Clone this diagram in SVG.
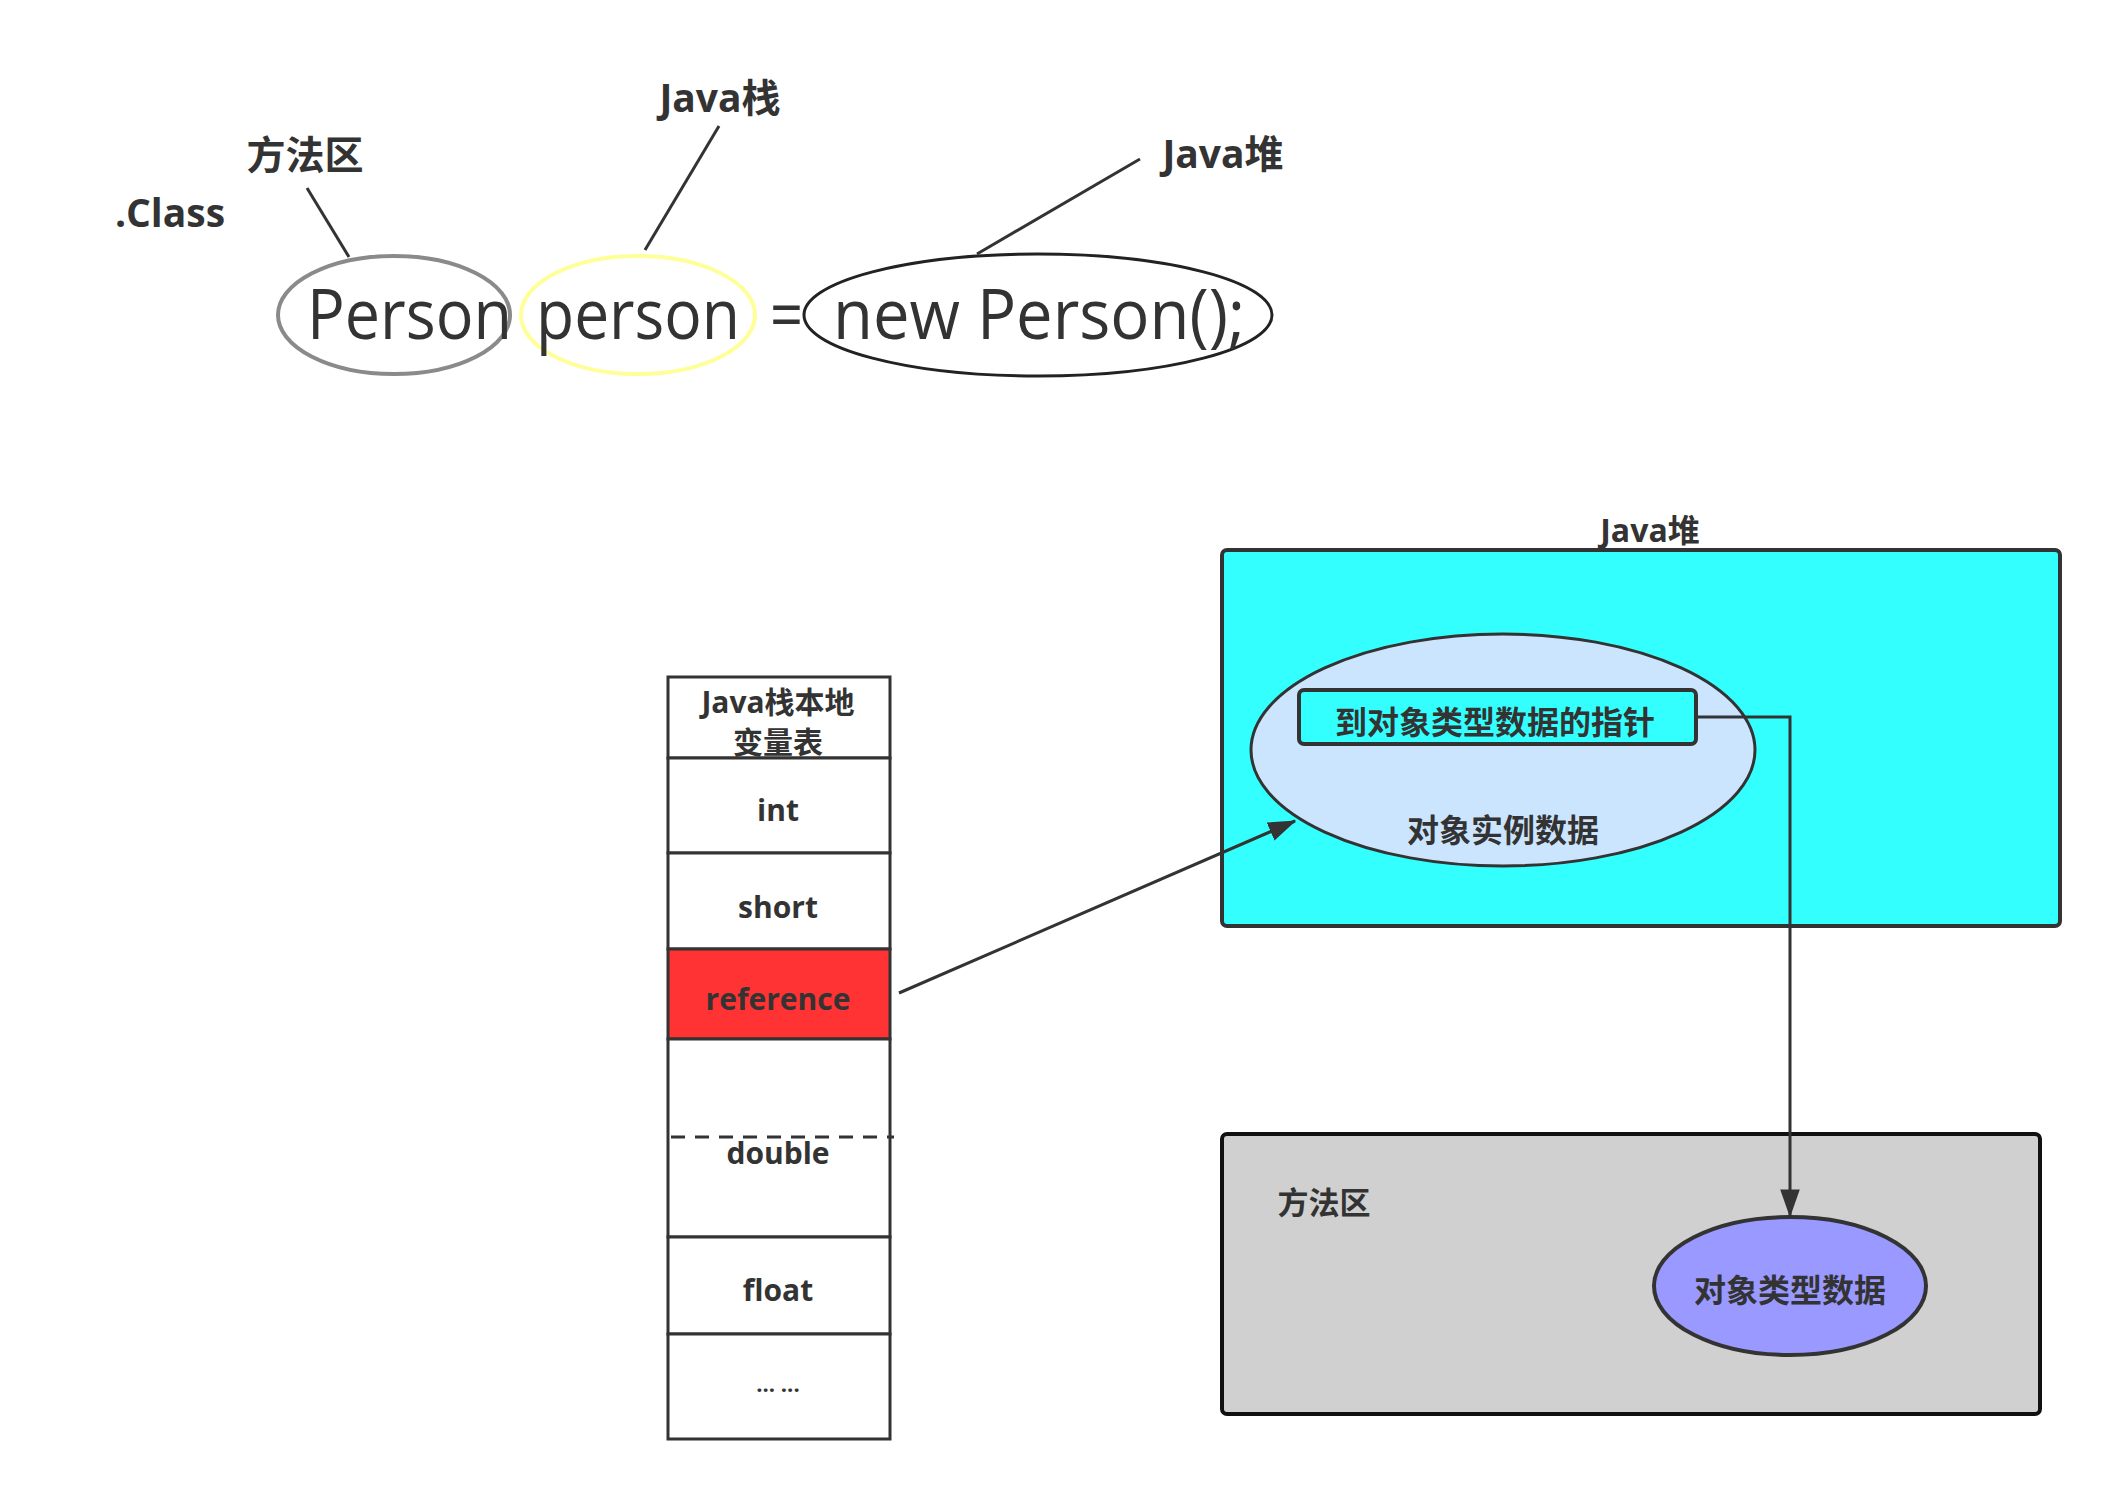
<svg xmlns="http://www.w3.org/2000/svg" width="2110" height="1490" viewBox="0 0 2110 1490">
<style>
.lbl{font-family:"Open Sans","Noto Sans CJK SC",sans-serif;font-weight:bold;fill:#333;text-anchor:middle;dominant-baseline:central}
.big{font-family:"Open Sans","Noto Sans CJK SC",sans-serif;font-size:70px;fill:#333}
.ln{stroke:#333;stroke-width:3;fill:none}
.cell{fill:#fff;stroke:#333;stroke-width:3}
</style>
<defs>
<marker id="ah2" viewBox="0 0 20 20" refX="19" refY="10" markerWidth="28" markerHeight="28" markerUnits="userSpaceOnUse" orient="auto">
<path d="M0,3 L20,10 L0,17 z" fill="#333"/>
</marker>
</defs>

<g id="code">
<ellipse cx="394" cy="315" rx="116" ry="59" fill="none" stroke="#8a8a8a" stroke-width="4"/>
<ellipse cx="638" cy="315" rx="117" ry="59" fill="none" stroke="#ffff99" stroke-width="4"/>
<ellipse cx="1038" cy="315" rx="234" ry="61" fill="none" stroke="#222" stroke-width="3"/>
<text class="big" x="307" y="339" textLength="205" lengthAdjust="spacingAndGlyphs">Person</text>
<text class="big" x="536" y="339" textLength="204" lengthAdjust="spacingAndGlyphs">person</text>
<text class="big" x="770" y="339" textLength="33" lengthAdjust="spacingAndGlyphs">=</text>
<text class="big" x="833" y="339" textLength="412" lengthAdjust="spacingAndGlyphs">new Person();</text>
</g>

<g id="labels-top">
<text class="lbl" x="720" y="96" font-size="39">Java栈</text>
<text class="lbl" x="305" y="153" font-size="39">方法区</text>
<text class="lbl" x="170" y="211" font-size="39">.Class</text>
<text class="lbl" x="1223" y="152" font-size="39">Java堆</text>
</g>

<g id="stack">
<rect class="cell" x="668" y="677" width="222" height="81"/>
<rect class="cell" x="668" y="758" width="222" height="95"/>
<rect class="cell" x="668" y="853" width="222" height="96"/>
<rect x="668" y="949" width="222" height="90" fill="#ff3333" stroke="#333" stroke-width="3"/>
<rect class="cell" x="668" y="1039" width="222" height="198"/>
<rect class="cell" x="668" y="1237" width="222" height="97"/>
<rect class="cell" x="668" y="1334" width="222" height="105"/>
<line x1="671" y1="1137" x2="894" y2="1137" stroke="#333" stroke-width="3" stroke-dasharray="14,10"/>
<text class="lbl" x="778" y="701" font-size="30">Java栈本地</text>
<text class="lbl" x="778" y="741" font-size="30">变量表</text>
<text class="lbl" x="778" y="809" font-size="30">int</text>
<text class="lbl" x="778" y="906" font-size="30">short</text>
<text class="lbl" x="778" y="998" font-size="30">reference</text>
<text class="lbl" x="778" y="1152" font-size="30">double</text>
<text class="lbl" x="778" y="1289" font-size="30">float</text>
<text class="lbl" x="778" y="1383" font-size="22" font-weight="normal">... ...</text>
</g>

<g id="heap">
<text class="lbl" x="1650" y="529" font-size="32">Java堆</text>
<rect x="1222" y="550" width="838" height="376" rx="5" fill="#33ffff" stroke="#333" stroke-width="4"/>
<ellipse cx="1503" cy="750" rx="252" ry="116" fill="#cce5ff" stroke="#333" stroke-width="3"/>
<rect x="1299" y="690" width="397" height="54" rx="5" fill="#33ffff" stroke="#333" stroke-width="4"/>
<text class="lbl" x="1495" y="721" font-size="32">到对象类型数据的指针</text>
<text class="lbl" x="1503" y="829" font-size="32">对象实例数据</text>
</g>

<g id="method-area">
<rect x="1222" y="1134" width="818" height="280" rx="5" fill="#d0d0d0" stroke="#111" stroke-width="4"/>
<text class="lbl" x="1324" y="1202" font-size="31">方法区</text>
<ellipse cx="1790" cy="1286" rx="136" ry="69" fill="#9999ff" stroke="#333" stroke-width="4"/>
<text class="lbl" x="1790" y="1289" font-size="32">对象类型数据</text>
</g>

<g id="connectors">
<line class="ln" x1="307" y1="188" x2="349" y2="257"/>
<line class="ln" x1="719" y1="126" x2="645" y2="250"/>
<line class="ln" x1="1140" y1="159" x2="977" y2="254"/>
<line class="ln" x1="899" y1="993" x2="1295" y2="821" marker-end="url(#ah2)"/>
<polyline class="ln" points="1696,717 1790,717 1790,1216" marker-end="url(#ah2)"/>
</g>
</svg>
